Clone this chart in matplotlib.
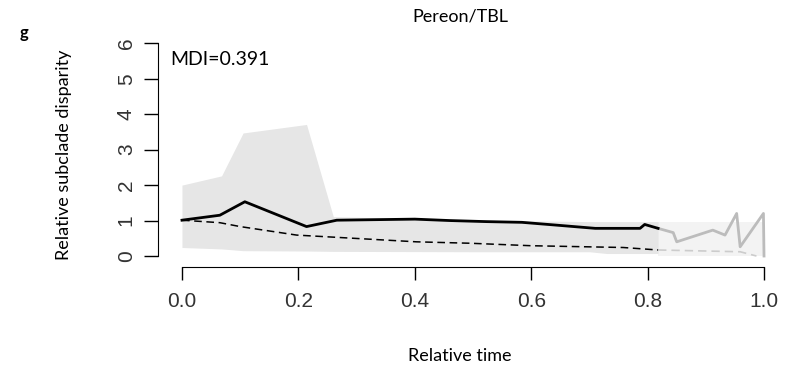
import matplotlib.pyplot as plt

# observed (black) and null (dashed) relative disparity through time
t_obs = [0.0, 0.065, 0.108, 0.214, 0.266, 0.40, 0.46, 0.523, 0.584, 0.644, 0.71, 0.787, 0.795, 0.818]
v_obs = [1.01, 1.15, 1.53, 0.83, 1.01, 1.04, 1.0, 0.97, 0.95, 0.87, 0.78, 0.78, 0.89, 0.78]

# tail of observed curve drawn in grey
t_tail = [0.818, 0.844, 0.85, 0.912, 0.933, 0.953, 0.959, 0.999, 1.0]
v_tail = [0.78, 0.66, 0.40, 0.73, 0.59, 1.2, 0.26, 1.2, 0.0]

t_null = [0.0, 0.065, 0.10, 0.197, 0.403, 0.495, 0.60, 0.758, 0.818]
v_null = [1.01, 0.94, 0.83, 0.59, 0.40, 0.36, 0.29, 0.24, 0.17]

t_null_tail = [0.818, 0.959, 0.987]
v_null_tail = [0.17, 0.12, 0.0]

# 95% envelope
t_env = [0.0, 0.068, 0.105, 0.214, 0.26, 0.50, 0.70, 0.73, 0.818]
env_hi = [2.0, 2.26, 3.47, 3.71, 1.11, 1.01, 0.97, 0.97, 0.97]
env_lo = [0.24, 0.2, 0.15, 0.14, 0.13, 0.12, 0.12, 0.07, 0.07]

t_env_tail = [0.818, 1.0]
env_tail_hi = [0.97, 0.97]
env_tail_lo = [0.0, 0.0]

W, H = 801, 368
fig = plt.figure(figsize=(W / 100, H / 100), dpi=100)
left, right, top, bottom = 158, 787.3, 34.4, 267
ax = fig.add_axes([left / W, 1 - bottom / H, (right - left) / W, (bottom - top) / H])
ax.set_xlim(-0.0412, 1.04)
ax.set_ylim(-0.31, 6.25)

ax.fill_between(t_env_tail, env_tail_lo, env_tail_hi, color='#f3f3f3', lw=0)
ax.fill_between(t_env, env_lo, env_hi, color='#e6e6e6', lw=0)
ax.plot(t_null_tail, v_null_tail, color='#cccccc', lw=1.2, ls=(0, (5, 3)))
ax.plot(t_tail, v_tail, color='#bcbcbc', lw=2)
ax.plot(t_null, v_null, color='black', lw=1.1, ls=(0, (5, 3)))
ax.plot(t_obs, v_obs, color='black', lw=2)

for s in ['top', 'right']:
    ax.spines[s].set_visible(False)
ax.spines['left'].set_bounds(0, 6)
ax.spines['bottom'].set_bounds(0, 1)
ax.set_xticks([0, 0.2, 0.4, 0.6, 0.8, 1.0])
ax.set_xticklabels(['0.0', '0.2', '0.4', '0.6', '0.8', '1.0'])
ax.set_yticks(range(7))
ax.tick_params(axis='x', length=9, width=1, pad=9, labelsize=15)
ax.tick_params(axis='y', length=10, width=1, pad=6, labelsize=15, labelrotation=90)
for lab in ax.get_xticklabels() + ax.get_yticklabels():
    lab.set_family('Liberation Sans')
    lab.set_color('#333333')
for lab in ax.get_yticklabels():
    lab.set_va('center')

ax.text(-0.0205, 5.55, 'MDI=0.391', fontsize=14, family='Lato', va='center', ha='left')
fig.text(460 / W, 1 - 17 / H, 'Pereon/TBL', fontsize=13, family='Lato', ha='center', va='center')
fig.text(24 / W, 1 - 33 / H, 'g', fontsize=12, family='Lato', weight='bold', ha='center', va='center')
fig.text(64 / W, 1 - 155 / H, 'Relative subclade disparity', fontsize=13, family='Lato',
         rotation=90, ha='center', va='center')
fig.text(460 / W, 1 - 356 / H, 'Relative time', fontsize=13, family='Lato', ha='center', va='center')

fig.savefig('out.png', dpi=100)
